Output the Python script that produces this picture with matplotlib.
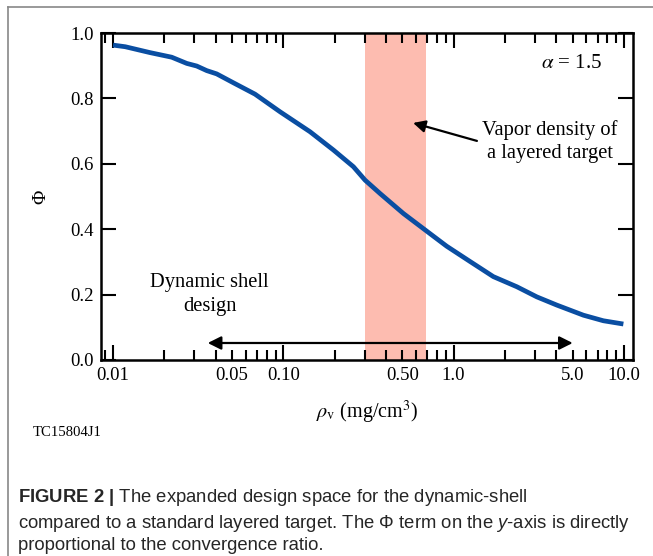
import numpy as np
import matplotlib
matplotlib.use('Agg')
import matplotlib.pyplot as plt
from matplotlib.ticker import FixedLocator, FuncFormatter
from matplotlib.lines import Line2D

# Dane
rho_v = [0.01, 0.0118, 0.0165, 0.0221, 0.0271, 0.031, 0.0355, 0.0406, 0.0508, 0.0682,
         0.0957, 0.1435, 0.197, 0.258, 0.302, 0.37, 0.507, 0.695, 0.91, 1.25,
         1.71, 2.35, 3.08, 4.03, 5.78, 7.57, 9.92]
phi = [0.963, 0.958, 0.940, 0.926, 0.907, 0.899, 0.885, 0.875, 0.848, 0.813,
       0.759, 0.698, 0.642, 0.591, 0.550, 0.509, 0.448, 0.394, 0.348, 0.301,
       0.255, 0.224, 0.193, 0.168, 0.137, 0.120, 0.110]
band = (0.30, 0.69)
design_range = (0.036, 5.0)
major_ticks = [0.01, 0.1, 1.0, 10.0]
labelled = {0.01: '0.01', 0.05: '0.05', 0.1: '0.10', 0.5: '0.50',
            1.0: '1.0', 5.0: '5.0', 10.0: '10.0'}
y_ticks = [0.0, 0.2, 0.4, 0.6, 0.8, 1.0]

plt.rcParams['mathtext.fontset'] = 'custom'
plt.rcParams['mathtext.rm'] = 'Liberation Sans'
plt.rcParams['mathtext.bf'] = 'Liberation Sans:bold'
plt.rcParams['mathtext.it'] = 'Liberation Sans:italic'

serif = 'Liberation Serif'

fig = plt.figure(figsize=(6.53, 5.56), dpi=100)
ax = fig.add_axes([101 / 653, 1 - 360 / 556, 532 / 653, 327 / 556])

# ramka wokol figury
fig.add_artist(Line2D([8 / 653, 8 / 653], [0, 1 - 7 / 556], transform=fig.transFigure,
                      color='#888888', lw=1.2))
fig.add_artist(Line2D([8 / 653, 1], [1 - 7 / 556, 1 - 7 / 556], transform=fig.transFigure,
                      color='#888888', lw=1.2))

ax.axvspan(band[0], band[1], color='#fdbcb0', lw=0, zorder=1)
ax.plot(rho_v, phi, color='#0a4ea2', lw=3.4, zorder=3, solid_capstyle='butt')

ax.set_xscale('log')
ax.set_xlim(0.0085, 11.3)
ax.set_ylim(0, 1.0)

minor = [m * d for d in [0.001, 0.01, 0.1, 1.0] for m in range(2, 10)]
minor = [v for v in minor if 0.0085 <= v <= 11.3]
ax.xaxis.set_major_locator(FixedLocator(major_ticks))
ax.xaxis.set_minor_locator(FixedLocator(minor))
fmt = FuncFormatter(lambda v, p: next((s for k, s in labelled.items() if abs(v / k - 1) < 1e-6), ''))
ax.xaxis.set_major_formatter(fmt)
ax.xaxis.set_minor_formatter(fmt)
ax.set_yticks(y_ticks)
ax.set_yticklabels([f'{v:.1f}' for v in y_ticks])

ax.tick_params(which='both', direction='in', top=True, right=True, width=1.5,
               labelsize=13.5, pad=5)
ax.tick_params(which='major', length=11)
ax.tick_params(which='minor', length=7)
for lab in ax.get_xticklabels(which='both') + ax.get_yticklabels():
    lab.set_family(serif)
for s in ax.spines.values():
    s.set_linewidth(1.8)

ax.set_xlabel(r'$\rho_{\mathrm{v}}$ (mg/cm$^3$)', fontsize=14.5, family=serif,
              math_fontfamily='stix', labelpad=11)
ax.set_ylabel('Φ', fontsize=14, family=serif, labelpad=15)

ax.text(0.942, 0.908, r'$\alpha$ = 1.5', transform=ax.transAxes, ha='right', va='center',
        fontsize=15, family=serif, math_fontfamily='stix')

ax.annotate('', xy=(design_range[0], 0.052), xytext=(design_range[1], 0.052),
            arrowprops=dict(arrowstyle='<|-|>', color='black', lw=1.6, mutation_scale=20,
                            shrinkA=0, shrinkB=0), zorder=4)
ax.text(0.037, 0.2, 'Dynamic shell\ndesign', ha='center', va='center', fontsize=14.8,
        family=serif, linespacing=1.32)

ax.annotate('', xy=(0.578, 0.725), xytext=(1.37, 0.670),
            arrowprops=dict(arrowstyle='-|>', color='black', lw=1.6, mutation_scale=18,
                            shrinkA=0, shrinkB=0))
ax.text(3.68, 0.668, 'Vapor density of\na layered target', ha='center', va='center',
        fontsize=14.8, family=serif, linespacing=1.28)

fig.text(33 / 653, 1 - 433 / 556, 'TC15804J1', fontsize=10.6, family=serif, va='center')

caption = ('$\\mathbf{FIGURE\\ 2\\ |}$ The expanded design space for the dynamic-shell\n'
           'compared to a standard layered target. The Φ term on the $\\mathit{y}$-axis is directly\n'
           'proportional to the convergence ratio.')
fig.text(18 / 653, 1 - 487 / 556, caption, fontsize=13.3, family='Liberation Sans',
         va='top', ha='left', linespacing=1.3, color='#262626')

fig.savefig('out.png', dpi=100)
